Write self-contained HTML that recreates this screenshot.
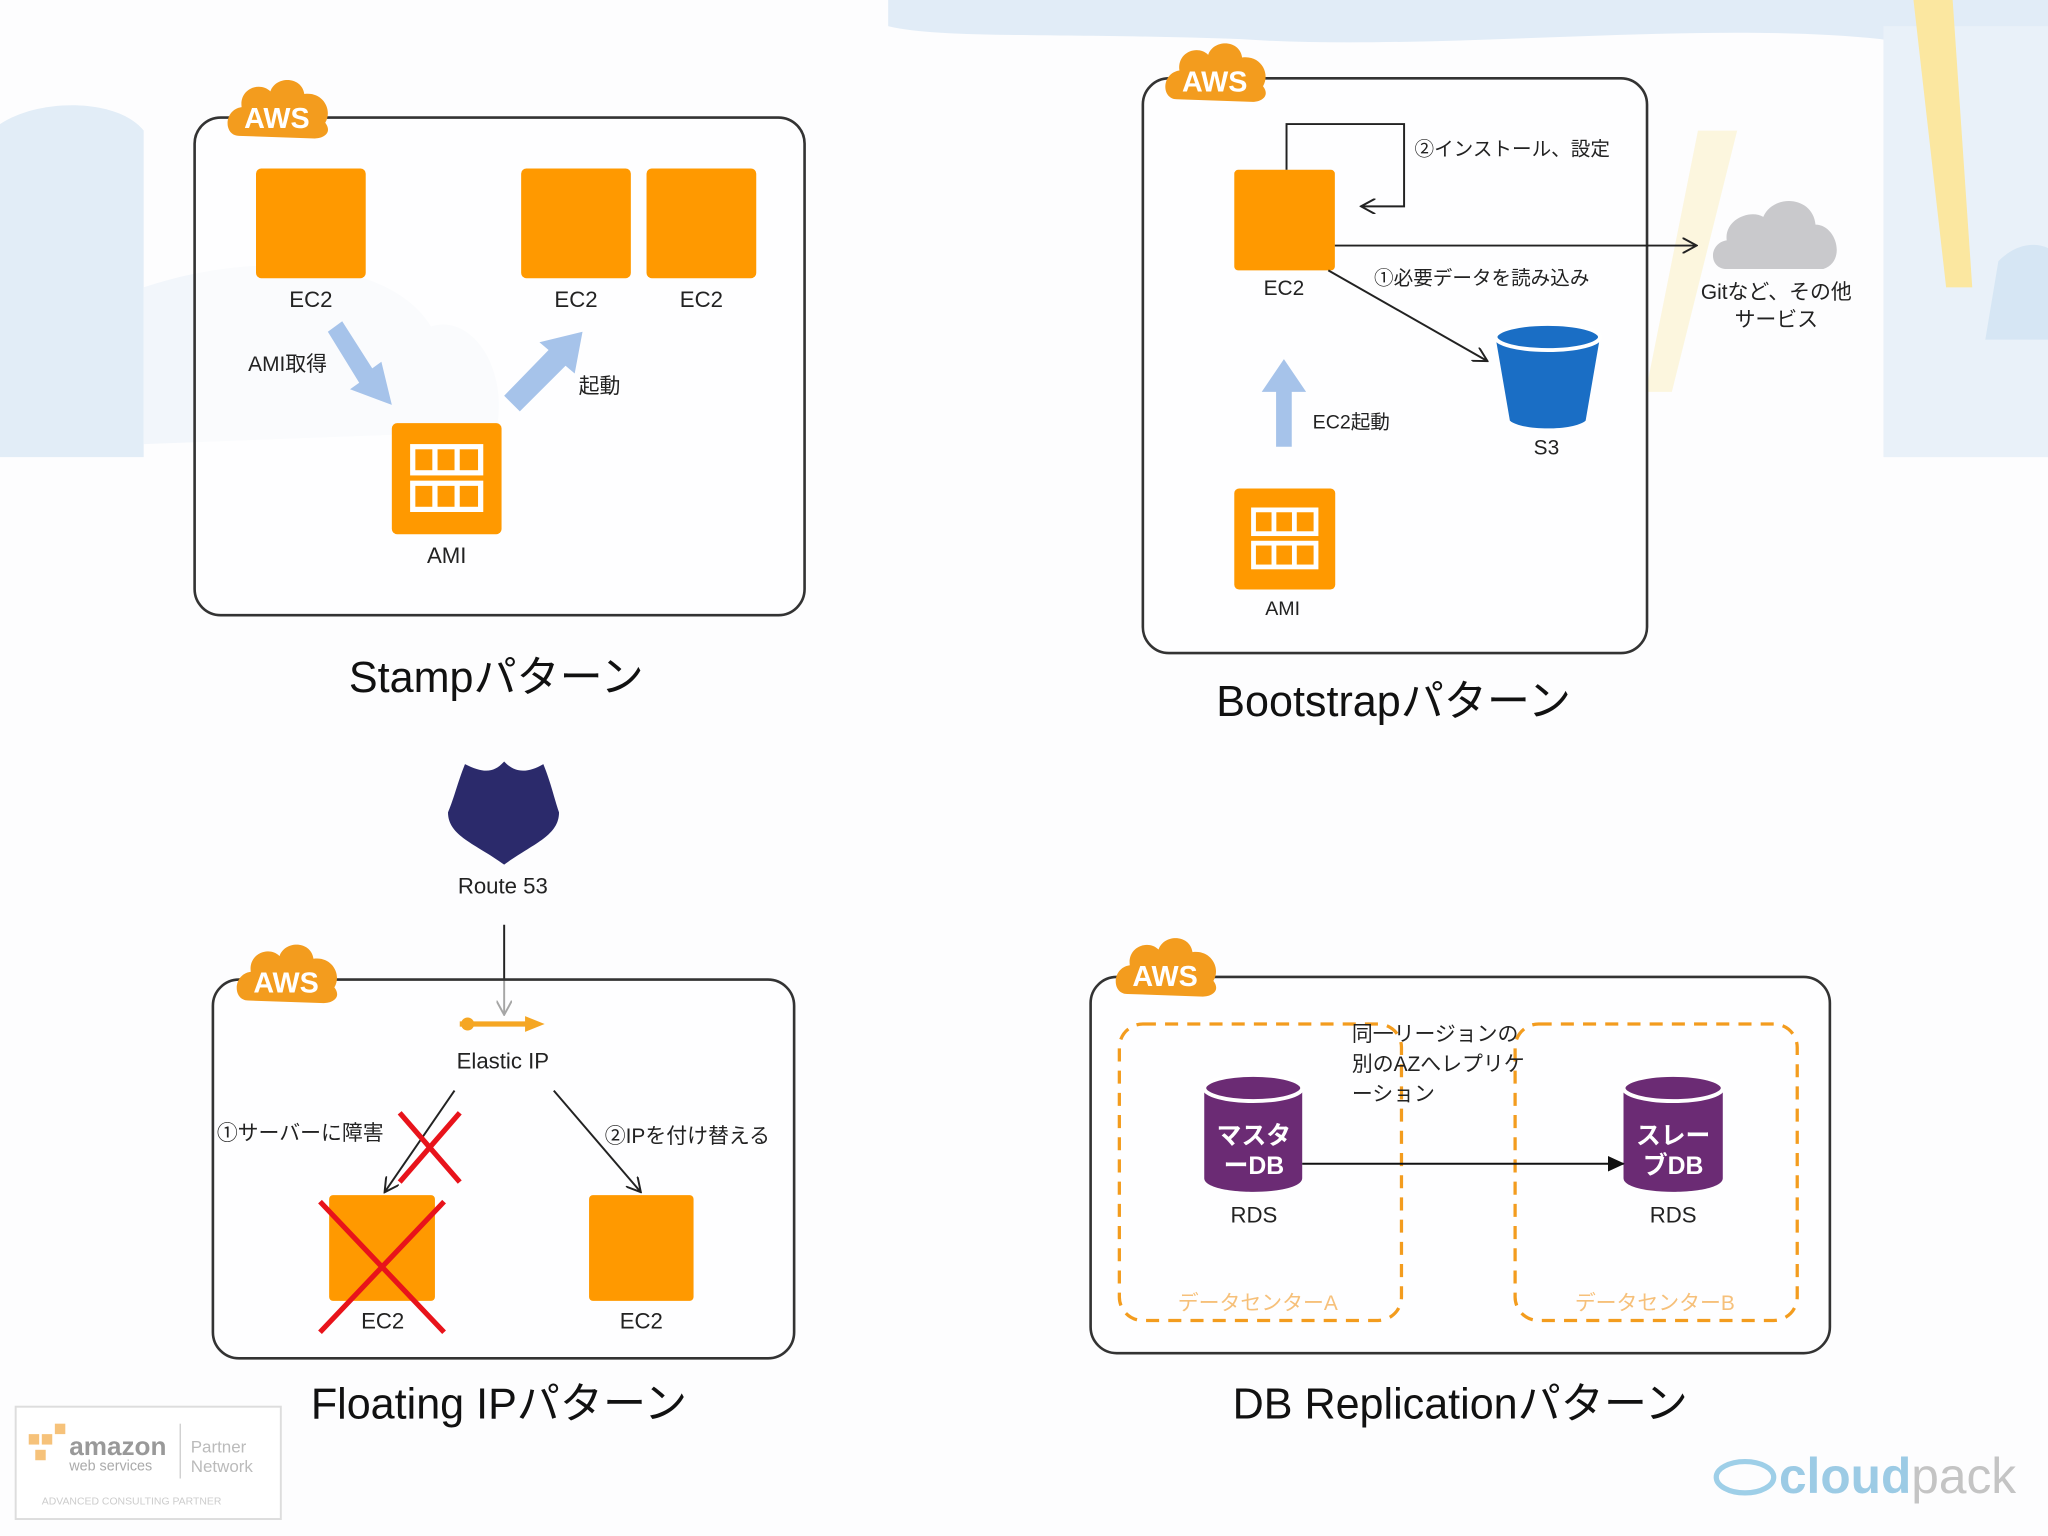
<!DOCTYPE html>
<html><head><meta charset="utf-8"><style>
html,body{margin:0;padding:0;background:#fdfdfe;}
svg{display:block;}
text{font-family:"Liberation Sans","Noto Sans CJK JP",sans-serif;}
</style></head><body>
<svg width="2048" height="1536" viewBox="0 0 1568 1176" xmlns="http://www.w3.org/2000/svg">
<defs>
<marker id="ah" markerWidth="12" markerHeight="12" refX="10" refY="6" orient="auto" markerUnits="userSpaceOnUse"><path d="M0,0 L11,6 L0,12" fill="none" stroke="#222" stroke-width="1.5"/></marker>
<marker id="af" markerWidth="14" markerHeight="14" refX="12" refY="7" orient="auto" markerUnits="userSpaceOnUse"><path d="M0,1 L13,7 L0,13 Z" fill="#111"/></marker>
<g id="aws"><path d="M8,46 C-4,46 -4,26 10,24 C8,10 24,4 32,12 C36,0 56,0 58,14 C72,12 80,26 74,36 C80,44 72,48 66,48 Z" fill="#f39c1e"/><text x="37" y="40" font-size="22" font-weight="bold" fill="#fff" text-anchor="middle">AWS</text></g>
<g id="ami"><rect width="84" height="85" rx="4" fill="#ff9900"/><g fill="none" stroke="#fff" stroke-width="4"><rect x="16" y="18" width="52" height="20"/><rect x="16" y="46" width="52" height="20"/><path d="M33,18v20M50,18v20M33,46v20M50,46v20"/></g></g>
</defs>
<!-- background clouds -->
<path d="M0,95 C30,75 90,75 110,100 L110,350 L0,350 Z" fill="#e2edf7"/>
<path d="M110,220 C200,190 300,200 330,250 C360,240 390,280 380,330 L110,340 Z" fill="#f2f6fb"/>
<path d="M680,0 L1568,0 L1568,50 L1440,30 C1300,15 1100,40 950,30 C820,25 720,30 680,20 Z" fill="#e1ecf7"/>
<rect x="1442" y="20" width="126" height="330" fill="#e9f1f9"/>
<path d="M1465,0 L1495,0 L1510,220 L1490,220 Z" fill="#fbe7a0"/>
<path d="M1300,100 L1330,100 L1280,300 L1260,300 Z" fill="#fcf1c8" opacity="0.6"/>
<path d="M1530,200 C1550,180 1568,190 1568,190 L1568,260 L1520,260 Z" fill="#d6e6f4"/>

<!-- Stamp -->
<rect x="149" y="90" width="467" height="381" rx="20" fill="#fff" fill-opacity="0.6" stroke="#333" stroke-width="2"/>
<use href="#aws" x="175" y="58"/>
<rect x="196" y="129" width="84" height="84" rx="4" fill="#ff9900"/>
<rect x="399" y="129" width="84" height="84" rx="4" fill="#ff9900"/>
<rect x="495" y="129" width="84" height="84" rx="4" fill="#ff9900"/>
<g font-size="17" fill="#222" text-anchor="middle"><text x="238" y="235">EC2</text><text x="441" y="235">EC2</text><text x="537" y="235">EC2</text><text x="342" y="431">AMI</text></g>
<path d="M262,246 L285,282 L292,277 L300,310 L268,298 L275,293 L251,254 Z" fill="#a6c3ea"/>
<path d="M386,303 L420,268 L413,262 L446,254 L440,286 L433,280 L398,315 Z" fill="#a6c3ea"/>
<text x="190" y="284" font-size="16" fill="#222">AMI取得</text>
<text x="443" y="301" font-size="16" fill="#222">起動</text>
<use href="#ami" x="300" y="324"/>
<text x="380" y="530" font-size="33" fill="#111" text-anchor="middle">Stampパターン</text>

<!-- Bootstrap -->
<rect x="875" y="60" width="386" height="440" rx="20" fill="#fff" fill-opacity="0.6" stroke="#333" stroke-width="2"/>
<use href="#aws" x="893" y="30"/>
<rect x="945" y="130" width="77" height="77" rx="3" fill="#ff9900"/>
<path d="M985,130 L985,95 L1075,95 L1075,158 L1043,158" fill="none" stroke="#222" stroke-width="1.5" marker-end="url(#ah)"/>
<text x="1083" y="119" font-size="15" fill="#222">②インストール、設定</text>
<line x1="1022" y1="188" x2="1298" y2="188" stroke="#222" stroke-width="1.5" marker-end="url(#ah)"/>
<text x="1052" y="218" font-size="15" fill="#222">①必要データを読み込み</text>
<line x1="1017" y1="207" x2="1138" y2="276" stroke="#222" stroke-width="1.5" marker-end="url(#ah)"/>
<path d="M1322,206 C1308,206 1308,186 1322,184 C1320,168 1340,160 1350,166 C1358,148 1388,150 1390,172 C1406,172 1414,200 1396,206 Z" fill="#c9c9cc"/>
<text x="1360" y="229" font-size="16" fill="#222" text-anchor="middle">Gitなど、その他</text>
<text x="1360" y="250" font-size="16" fill="#222" text-anchor="middle">サービス</text>
<path d="M1145,258 L1225,258 L1214,322 C1205,330 1165,330 1156,322 Z" fill="#1a6ec5"/>
<ellipse cx="1185" cy="258" rx="40" ry="10" fill="#1a6ec5" stroke="#fff" stroke-width="3"/>
<text x="1184" y="348" font-size="16" fill="#222" text-anchor="middle">S3</text>
<text x="983" y="226" font-size="16" fill="#222" text-anchor="middle">EC2</text>
<path d="M977,342 L977,300 L966,300 L983,275 L1000,300 L989,300 L989,342 Z" fill="#a6c3ea"/>
<text x="1005" y="328" font-size="15" fill="#222">EC2起動</text>
<use href="#ami" x="945" y="374" transform="translate(945,374) scale(0.92,0.91) translate(-945,-374)"/>
<text x="982" y="471" font-size="15" fill="#222" text-anchor="middle">AMI</text>
<text x="1067" y="548" font-size="33" fill="#111" text-anchor="middle">Bootstrapパターン</text>

<!-- Floating IP -->
<path d="M356,585 C370,592 378,592 386,583 C394,592 404,592 416,585 C422,600 424,610 428,622 C428,640 408,646 386,662 C364,646 343,640 343,622 C348,610 350,600 356,585 Z" fill="#2b2a6b"/>
<text x="385" y="684" font-size="17" fill="#222" text-anchor="middle">Route 53</text>
<line x1="386" y1="708" x2="386" y2="776" stroke="#222" stroke-width="1.5" marker-end="url(#ah)"/>
<rect x="163" y="750" width="445" height="290" rx="20" fill="#fff" fill-opacity="0.6" stroke="#333" stroke-width="2"/>
<use href="#aws" x="182" y="720"/>
<path d="M352,784 L405,784" stroke="#f5a623" stroke-width="4"/><circle cx="358" cy="784" r="5" fill="#f5a623"/><path d="M402,778 L417,784 L402,790 Z" fill="#f5a623"/>
<text x="385" y="818" font-size="17" fill="#222" text-anchor="middle">Elastic IP</text>
<line x1="348" y1="835" x2="295" y2="912" stroke="#222" stroke-width="1.5" marker-end="url(#ah)"/>
<path d="M306,852 L352,905 M352,852 L306,905" stroke="#e8131b" stroke-width="4"/>
<text x="166" y="873" font-size="16" fill="#222">①サーバーに障害</text>
<line x1="424" y1="835" x2="490" y2="912" stroke="#222" stroke-width="1.5" marker-end="url(#ah)"/>
<text x="463" y="875" font-size="16" fill="#222">②IPを付け替える</text>
<rect x="252" y="915" width="81" height="81" rx="3" fill="#ff9900"/>
<rect x="451" y="915" width="80" height="81" rx="3" fill="#ff9900"/>
<text x="293" y="1017" font-size="17" fill="#222" text-anchor="middle">EC2</text>
<text x="491" y="1017" font-size="17" fill="#222" text-anchor="middle">EC2</text>
<path d="M245,920 L340,1020 M340,920 L245,1020" stroke="#e8131b" stroke-width="4"/>
<text x="382" y="1086" font-size="33" fill="#111" text-anchor="middle">Floating IPパターン</text>

<!-- DB Replication -->
<rect x="835" y="748" width="566" height="288" rx="20" fill="#fff" fill-opacity="0.6" stroke="#333" stroke-width="2"/>
<use href="#aws" x="855" y="715"/>
<rect x="857" y="784" width="216" height="227" rx="18" fill="none" stroke="#f39c1e" stroke-width="2.5" stroke-dasharray="10,7"/>
<rect x="1160" y="784" width="216" height="227" rx="18" fill="none" stroke="#f39c1e" stroke-width="2.5" stroke-dasharray="10,7"/>
<text x="963" y="1003" font-size="16" fill="#f6c07a" text-anchor="middle">データセンターA</text>
<text x="1267" y="1003" font-size="16" fill="#f6c07a" text-anchor="middle">データセンターB</text>
<g font-size="16" fill="#222"><text x="1035" y="797">同一リージョンの</text><text x="1035" y="820">別のAZへレプリケ</text><text x="1035" y="843">ーション</text></g>
<g>
<path d="M922,834 L922,902 C922,916 997,916 997,902 L997,834 Z" fill="#6b2b74"/>
<ellipse cx="959.5" cy="833" rx="37.5" ry="10" fill="#6b2b74" stroke="#fff" stroke-width="3"/>
<text x="960" y="876" font-size="19" font-weight="bold" fill="#fff" text-anchor="middle">マスタ</text>
<text x="960" y="899" font-size="19" font-weight="bold" fill="#fff" text-anchor="middle">ーDB</text>
<path d="M1243,834 L1243,902 C1243,916 1319,916 1319,902 L1319,834 Z" fill="#6b2b74"/>
<ellipse cx="1281" cy="833" rx="38" ry="10" fill="#6b2b74" stroke="#fff" stroke-width="3"/>
<text x="1281" y="876" font-size="19" font-weight="bold" fill="#fff" text-anchor="middle">スレー</text>
<text x="1281" y="899" font-size="19" font-weight="bold" fill="#fff" text-anchor="middle">ブDB</text>
</g>
<line x1="997" y1="891" x2="1243" y2="891" stroke="#111" stroke-width="1.5" marker-end="url(#af)"/>
<text x="960" y="936" font-size="17" fill="#222" text-anchor="middle">RDS</text>
<text x="1281" y="936" font-size="17" fill="#222" text-anchor="middle">RDS</text>
<text x="1118" y="1086" font-size="33" fill="#111" text-anchor="middle">DB Replicationパターン</text>

<!-- logos -->
<rect x="12" y="1077" width="203" height="86" fill="#fff" stroke="#ddd" stroke-width="1.5"/>
<g fill="#f6c27a"><rect x="22" y="1098" width="8" height="8"/><rect x="32" y="1098" width="8" height="8"/><rect x="42" y="1090" width="8" height="8"/><rect x="27" y="1110" width="8" height="8"/></g>
<text x="53" y="1114" font-size="20" font-weight="bold" fill="#999">amazon</text>
<text x="53" y="1126" font-size="11" fill="#aaa">web services</text>
<line x1="138" y1="1090" x2="138" y2="1132" stroke="#ccc"/>
<text x="146" y="1112" font-size="13" fill="#bbb">Partner</text>
<text x="146" y="1127" font-size="13" fill="#bbb">Network</text>
<text x="32" y="1152" font-size="8" fill="#ccc">ADVANCED CONSULTING PARTNER</text>
<ellipse cx="1336" cy="1131" rx="22" ry="12" fill="none" stroke="#9ecfe8" stroke-width="4"/>
<text x="1362" y="1143" font-size="38" font-weight="bold" fill="#9ccbe5">cloud<tspan font-weight="normal" fill="#c4c4c4">pack</tspan></text>
</svg>
</body></html>
